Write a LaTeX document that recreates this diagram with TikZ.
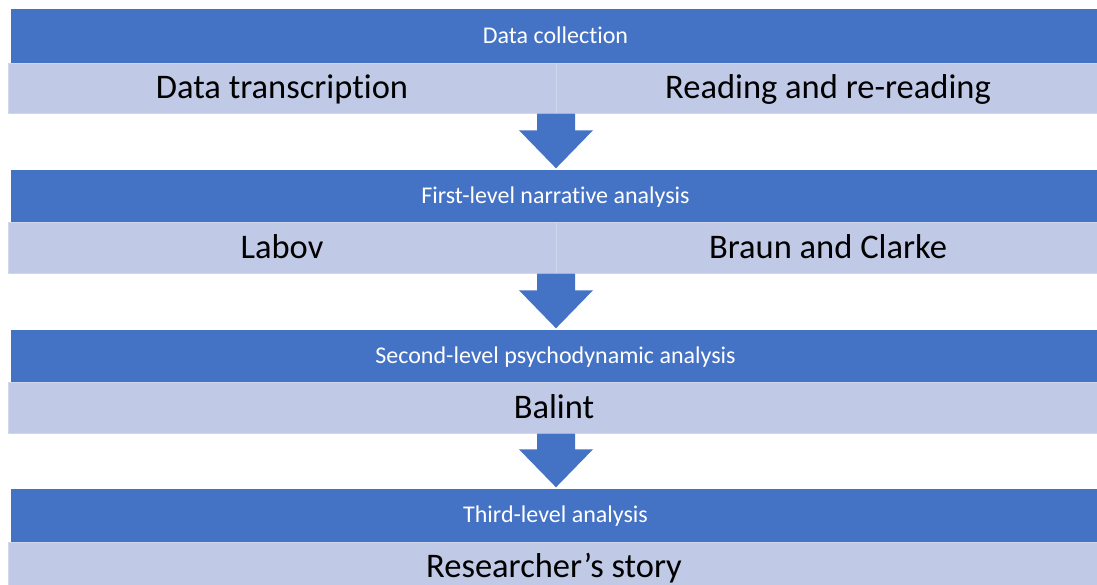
\documentclass[tikz,border=0pt]{standalone}
\usepackage{fontspec}
\setmainfont[Ligatures=NoCommon]{Carlito}
\usetikzlibrary{calc}
\definecolor{hdrblue}{RGB}{68,114,196}
\definecolor{boxlight}{RGB}{192,202,230}
\definecolor{boxedge}{RGB}{208,215,236}

\begin{document}
\begin{tikzpicture}[x=1pt,y=-1pt,
  hdr/.style={fill=hdrblue,text=white,inner sep=0pt,minimum width=1089pt,
    text height=18pt,text depth=4pt,font=\fontsize{24}{28}\selectfont},
  half/.style={fill=boxlight,draw=boxedge,line width=1pt,inner sep=0pt,
    text height=27pt,text depth=6pt,font=\fontsize{34.5}{40}\selectfont},
  downarrow/.style={fill=hdrblue}]
\clip (0,0) rectangle (1097,584);
\fill[white] (0,0) rectangle (1097,584);

% stage 1
\node[hdr,minimum height=54pt] (hdr1) at (555.5,36) {Data collection};
\node[half,minimum width=548pt,minimum height=50pt] (tra) at (282,88) {Data transcription};
\node[half,minimum width=544pt,minimum height=50pt] (rea) at (828,88) {Reading and re-reading};

% stage 2
\node[hdr,minimum height=52pt] (hdr2) at (555.5,196) {First-level narrative analysis};
\node[half,minimum width=548pt,minimum height=51pt] (lab) at (282,247.5) {Labov};
\node[half,minimum width=544pt,minimum height=51pt] (bra) at (828,247.5) {Braun and Clarke};

% stage 3
\node[hdr,minimum height=52pt] (hdr3) at (555.5,356) {Second-level psychodynamic analysis};
\node[half,minimum width=1092pt,minimum height=51pt] (bal) at (554,407.5) {Balint};

% stage 4
\node[hdr,minimum height=53pt] (hdr4) at (555.5,515.5) {Third-level analysis};
\node[half,minimum width=1092pt,minimum height=50pt] (res) at (554,567) {Researcher’s story};

% arrows between the stages
\foreach \from/\to in {tra/hdr2,lab/hdr3,bal/hdr4}{
  \coordinate (top) at (556,0 |- \from.south);
  \coordinate (tip) at ($(556,0 |- \to.north)+(0,-1.5)$);
  \fill[downarrow] ($(top)+(-19,0)$) -- ($(top)+(19,0)$) -- ($(tip)+(19,-38)$)
    -- ($(tip)+(37,-38)$) -- (tip) -- ($(tip)+(-37,-38)$) -- ($(tip)+(-19,-38)$) -- cycle;
}
\end{tikzpicture}
\end{document}
